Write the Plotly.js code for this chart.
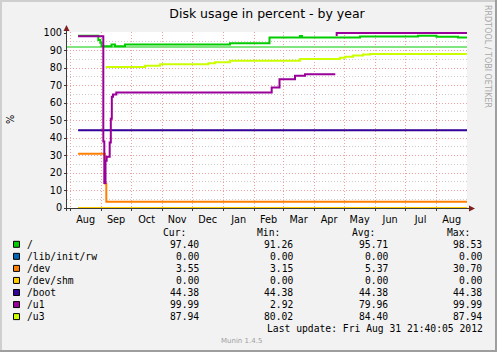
<!DOCTYPE html>
<html><head><meta charset="utf-8">
<script src="https://cdn.plot.ly/plotly-3.0.1.min.js"></script>
<style>html,body{margin:0;padding:0;background:#F2F2F2;}#chart{width:497px;height:352px;}</style>
</head><body><div id="chart"></div>
<script>
// ---------------- data ----------------
const START = '2011-07-28 21:40';
const END = '2012-08-31 21:40';
const WARN_ROOT = 92;

const rootX = ['2011-08-09','2011-08-29 05:00','2011-08-31 05:00','2011-09-01 10:00','2011-09-11 10:00','2011-09-14 22:00','2011-09-24 22:00','2012-01-07 22:00','2012-02-16 10:00','2012-03-17 22:00','2012-03-19 22:00','2012-05-16 22:00','2012-07-13 22:00','2012-08-01 10:00','2012-08-22 22:00','2012-08-31 21:40'];
const rootY = [98.5,96.0,94.5,92.4,93.5,92.4,93.5,94.1,97.5,98.3,97.5,98.0,98.5,97.9,97.4,97.4];

const libX = ['2011-08-09','2012-08-31 21:40'];
const libY = [0,0];

const devX = ['2011-08-09','2011-09-04 22:00','2011-09-06 05:00','2012-08-31 21:40'];
const devY = [31.0,14.0,3.55,3.55];

const shmX = ['2011-08-09','2012-08-31 21:40'];
const shmY = [0,0];

const bootX = ['2011-08-09','2012-08-31 21:40'];
const bootY = [44.38,44.38];

const u1X = ['2011-08-09','2011-09-03 05:00','2011-09-04 05:00','2011-09-05 10:00','2011-09-06 14:00','2011-09-09 14:00','2011-09-10 17:00','2011-09-11 17:00','2011-09-12 22:00','2011-09-16 05:00','2012-02-18 14:00','2012-02-26 10:00','2012-03-12 22:00','2012-03-22 22:00','2012-04-22 05:00','2012-04-22 12:00','2012-04-22 15:00','2012-04-23 14:00','2012-08-31 21:40'];
const u1Y = [98.2,38.0,14.3,27.0,29.3,37.5,51.0,63.6,64.8,66.0,68.8,73.6,75.6,76.4,76.4,null,98.8,99.99,99.99];

const u3X = ['2011-09-05 14:00','2011-10-14 22:00','2011-10-29 22:00','2011-12-17 05:00','2011-12-23 22:00','2012-01-07 22:00','2012-03-17 22:00','2012-04-26 22:00','2012-05-01 22:00','2012-05-09 22:00','2012-05-19 22:00','2012-05-26 22:00','2012-08-31 21:40'];
const u3Y = [80.6,81.3,82.1,82.7,83.3,84.2,85.2,85.9,86.5,87.2,87.7,87.94,87.94];

const seriesNames = ['/','/lib/init/rw','/dev','/dev/shm','/boot','/u1','/u3'];
const seriesColors = ['#00CC00','#0066B3','#FF8000','#FFCC00','#330099','#990099','#CCFF00'];
const curVals = ['97.40','0.00','3.55','0.00','44.38','99.99','87.94'];
const minVals = ['91.26','0.00','3.15','0.00','44.38','2.92','80.02'];
const avgVals = ['95.71','0.00','5.37','0.00','44.38','79.96','84.40'];
const maxVals = ['98.53','0.00','30.70','0.00','44.38','99.99','87.94'];
const colHeaders = ['Cur:','Min:','Avg:','Max:'];
const yTicks = [0,10,20,30,40,50,60,70,80,90,100];
const titleText = 'Disk usage in percent - by year';
const unitText = '%';
const lastUpdate = 'Last update: Fri Aug 31 21:40:05 2012';
const watermark = 'Munin 1.4.5';
const vendorText = 'RRDTOOL / TOBI OETIKER';

// ---------------- geometry ----------------
const FW = 497, FH = 352;
const L = 67, R = 467, T = 32, B = 208;
const PW = R - L, PH = B - T;
const px = x => (x - L) / PW;
const py = y => (B - y) / PH;
const SANS = 'DejaVu Sans, Liberation Sans, sans-serif';
const MONO = 'DejaVu Sans Mono, Liberation Mono, monospace';

const xs = [rootX, libX, devX, shmX, bootX, u1X, u3X];
const ys = [rootY, libY, devY, shmY, bootY, u1Y, u3Y];
const traces = xs.map((x, i) => ({
  type: 'scatter', mode: 'lines', x: x, y: ys[i], name: seriesNames[i],
  line: {color: seriesColors[i], width: 2, shape: 'hv'}, connectgaps: false,
  hoverinfo: 'skip'
}));

const shapes = [];
function rectPx(x0, y0, x1, y1, fill, line) {
  shapes.push({type: 'rect', xref: 'paper', yref: 'paper', x0: px(x0), x1: px(x1), y0: py(y1), y1: py(y0),
    fillcolor: fill, line: line || {width: 0}, layer: 'above'});
}
function linePx(x0, y0, x1, y1, color, w) {
  shapes.push({type: 'line', xref: 'paper', yref: 'paper', x0: px(x0), x1: px(x1), y0: py(y0), y1: py(y1),
    line: {color: color, width: w}, layer: 'above'});
}
function pathPx(pts, color) {
  const d = pts.map((p, i) => (i ? 'L' : 'M') + px(p[0]).toFixed(5) + ',' + py(p[1]).toFixed(5)).join(' ') + ' Z';
  shapes.push({type: 'path', xref: 'paper', yref: 'paper', path: d, fillcolor: color, line: {width: 0}, layer: 'above'});
}
// warning rule
shapes.push({type: 'line', xref: 'paper', yref: 'y', x0: 0, x1: 1, y0: WARN_ROOT, y1: WARN_ROOT,
  line: {color: '#00CC00', width: 1}, layer: 'between'});
// bevel
rectPx(0, 0, FW, 2, '#CFCFCF');
rectPx(0, 0, 2, FH, '#CFCFCF');
rectPx(0, FH - 2, FW, FH, '#9E9E9E');
rectPx(FW - 2, 0, FW, FH, '#9E9E9E');
// axes
linePx(66.5, 211, 66.5, 29, '#3a3a3a', 1);
linePx(64, 208.5, 470, 208.5, '#3a3a3a', 1);
pathPx([[63.5, 31], [69.5, 31], [66.5, 25]], '#801F1F');
pathPx([[469, 205.5], [469, 211.5], [475, 208.5]], '#801F1F');

// legend
const annotations = [];
function textPx(x, y, text, opts) {
  annotations.push(Object.assign({xref: 'paper', yref: 'paper', x: px(x), y: py(y), text: text,
    showarrow: false, xanchor: 'left', yanchor: 'middle', borderpad: 0, borderwidth: 0,
    font: {family: MONO, size: 9.7, color: '#000'}}, opts || {}));
}
const rowY0 = 244.3, rowDY = 12.05;
const hdrLeft = [163, 256.7, 351.7, 446.7];
const valRight = [199, 293.3, 388.3, 482.3];
colHeaders.forEach((h, j) => textPx(hdrLeft[j], 232.5, h));
const cols = [curVals, minVals, avgVals, maxVals];
seriesNames.forEach((n, i) => {
  const yy = rowY0 + i * rowDY;
  rectPx(13.5, yy - 3, 19.5, yy + 3, seriesColors[i], {color: '#000', width: 1});
  textPx(26.7, yy, n);
  cols.forEach((c, j) => textPx(valRight[j], yy, c[i], {xanchor: 'right'}));
});
textPx(483.3, 328.3, lastUpdate, {xanchor: 'right'});
textPx(241.5, 341, watermark, {xanchor: 'center', font: {family: SANS, size: 7, color: '#A0A0A0'}});
textPx(487.5, 56.5, vendorText, {xanchor: 'center', textangle: 90, font: {family: SANS, size: 8, color: '#A8A8A8'}});
textPx(10, 120, unitText, {xanchor: 'center', textangle: -90, font: {family: SANS, size: 9.7, color: '#000'}});

const layout = {
  width: FW, height: FH,
  margin: {l: L, r: FW - R, t: T, b: FH - B, pad: 0},
  paper_bgcolor: '#F2F2F2', plot_bgcolor: '#FFFFFF', showlegend: false,
  title: {text: titleText, font: {family: SANS, size: 12.5, color: '#000'},
    xref: 'paper', x: px(267), xanchor: 'center', yref: 'container', y: 1 - 13.5 / FH, yanchor: 'middle'},
  xaxis: {type: 'date', range: [START, END], tick0: '2011-08-01', dtick: 'M1', tickformat: '%b',
    ticklabelmode: 'period', showgrid: true, gridcolor: '#F0A0A0', griddash: '1px,2px', gridwidth: 1,
    ticks: 'outside', ticklen: 2, tickcolor: '#3a3a3a', showline: false, zeroline: false,
    tickfont: {family: SANS, size: 9.7, color: '#000'}, fixedrange: true},
  yaxis: {range: [0, PH / 1.75], tickvals: yTicks, ticktext: yTicks.map(String), showgrid: true,
    gridcolor: '#F0A0A0', griddash: '1px,2px', gridwidth: 1, ticks: 'outside', ticklen: 2,
    tickcolor: '#3a3a3a', showline: false, zeroline: false,
    tickfont: {family: SANS, size: 9.7, color: '#000'}, fixedrange: true,
    minor: {dtick: 5, tick0: 0, showgrid: true, gridcolor: '#CCCCCC', griddash: '1px,2px', gridwidth: 1}},
  shapes: shapes, annotations: annotations
};
Plotly.newPlot('chart', traces, layout, {staticPlot: true, displayModeBar: false});
</script></body></html>
